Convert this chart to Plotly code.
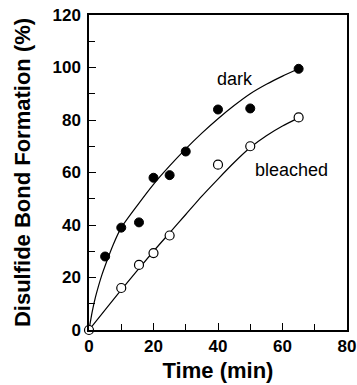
import plotly.graph_objects as go

# Measured data
dark_t = [5, 10, 15.5, 20, 25, 30, 40, 50, 65]
dark_v = [28, 39, 41, 58, 59, 68, 84, 84.4, 99.5]
bleached_t = [0, 10, 15.5, 20, 25, 40, 50, 65]
bleached_v = [0, 16, 24.8, 29.3, 36, 63, 70, 81]

# Fitted curves
dark_fit_t = [0, 1, 2, 3, 4, 5, 7.5, 10, 15, 20, 25, 30, 35, 40, 45, 50, 55, 60, 65]
dark_fit_v = [0, 7, 12.5, 17, 21, 24.5, 32.5, 39, 47.5, 55.5, 62.5, 69, 75, 80.5, 85.5, 90, 93.6, 96.7, 99.5]
bleached_fit_t = [0, 10, 20, 25, 30, 35, 40, 45, 50, 55, 60, 65]
bleached_fit_v = [0, 15.3, 30, 37, 44, 51, 57.5, 63.8, 69.5, 74, 77.7, 80.8]

x_ticks = [0, 20, 40, 60, 80]
y_ticks = [0, 20, 40, 60, 80, 100, 120]

BOLD = "Liberation Sans"

fig = go.Figure()
fig.add_trace(go.Scatter(x=dark_fit_t, y=dark_fit_v, mode="lines",
                         line=dict(color="black", width=1.2, shape="spline", smoothing=0.6),
                         showlegend=False, hoverinfo="skip"))
fig.add_trace(go.Scatter(x=bleached_fit_t, y=bleached_fit_v, mode="lines",
                         line=dict(color="black", width=1.2, shape="spline", smoothing=0.6),
                         showlegend=False, hoverinfo="skip"))
fig.add_trace(go.Scatter(x=dark_t, y=dark_v, mode="markers", name="dark",
                         marker=dict(symbol="circle", size=9, color="black",
                                     line=dict(color="black", width=1)),
                         showlegend=False, cliponaxis=False))
fig.add_trace(go.Scatter(x=bleached_t, y=bleached_v, mode="markers", name="bleached",
                         marker=dict(symbol="circle", size=9, color="white",
                                     line=dict(color="black", width=1.2)),
                         showlegend=False, cliponaxis=False))

fig.add_annotation(x=45.4, y=95.6, text="dark", showarrow=False,
                   font=dict(family="Liberation Sans", size=18, color="black"))
fig.add_annotation(x=62.8, y=61, text="bleached", showarrow=False,
                   font=dict(family="Liberation Sans", size=18, color="black"))

axis_common = dict(
    showline=True, linecolor="black", linewidth=1.5, mirror=True,
    showgrid=False, zeroline=False, automargin=False,
    ticks="inside", ticklen=7, tickwidth=1.3, tickcolor="black",
    tickfont=dict(family=BOLD, size=17, color="black", weight="bold"),
    minor=dict(ticks="inside", ticklen=6, tickwidth=1.3, tickcolor="black", dtick=10),
)

fig.update_xaxes(range=[0, 80], tickvals=x_ticks, ticktext=[str(v) for v in x_ticks],
                 title=dict(text="<b>Time (min)</b>", standoff=7,
                            font=dict(family=BOLD, size=22, color="black")),
                 **axis_common)
fig.update_yaxes(range=[0, 120], tickvals=y_ticks, ticktext=[str(v) for v in y_ticks],
                 ticklabelstandoff=3,
                 title=dict(text="<b>Disulfide Bond Formation (%)</b>", standoff=16,
                            font=dict(family=BOLD, size=22, color="black")),
                 **axis_common)

fig.update_layout(
    width=357, height=385,
    margin=dict(l=89, r=10, t=15, b=55),
    paper_bgcolor="white", plot_bgcolor="white",
    font=dict(family=BOLD, color="black"),
)

fig.write_html("out.html", config={"displayModeBar": False},
               post_script="document.body.style.margin='0';document.body.style.overflow='hidden';")
